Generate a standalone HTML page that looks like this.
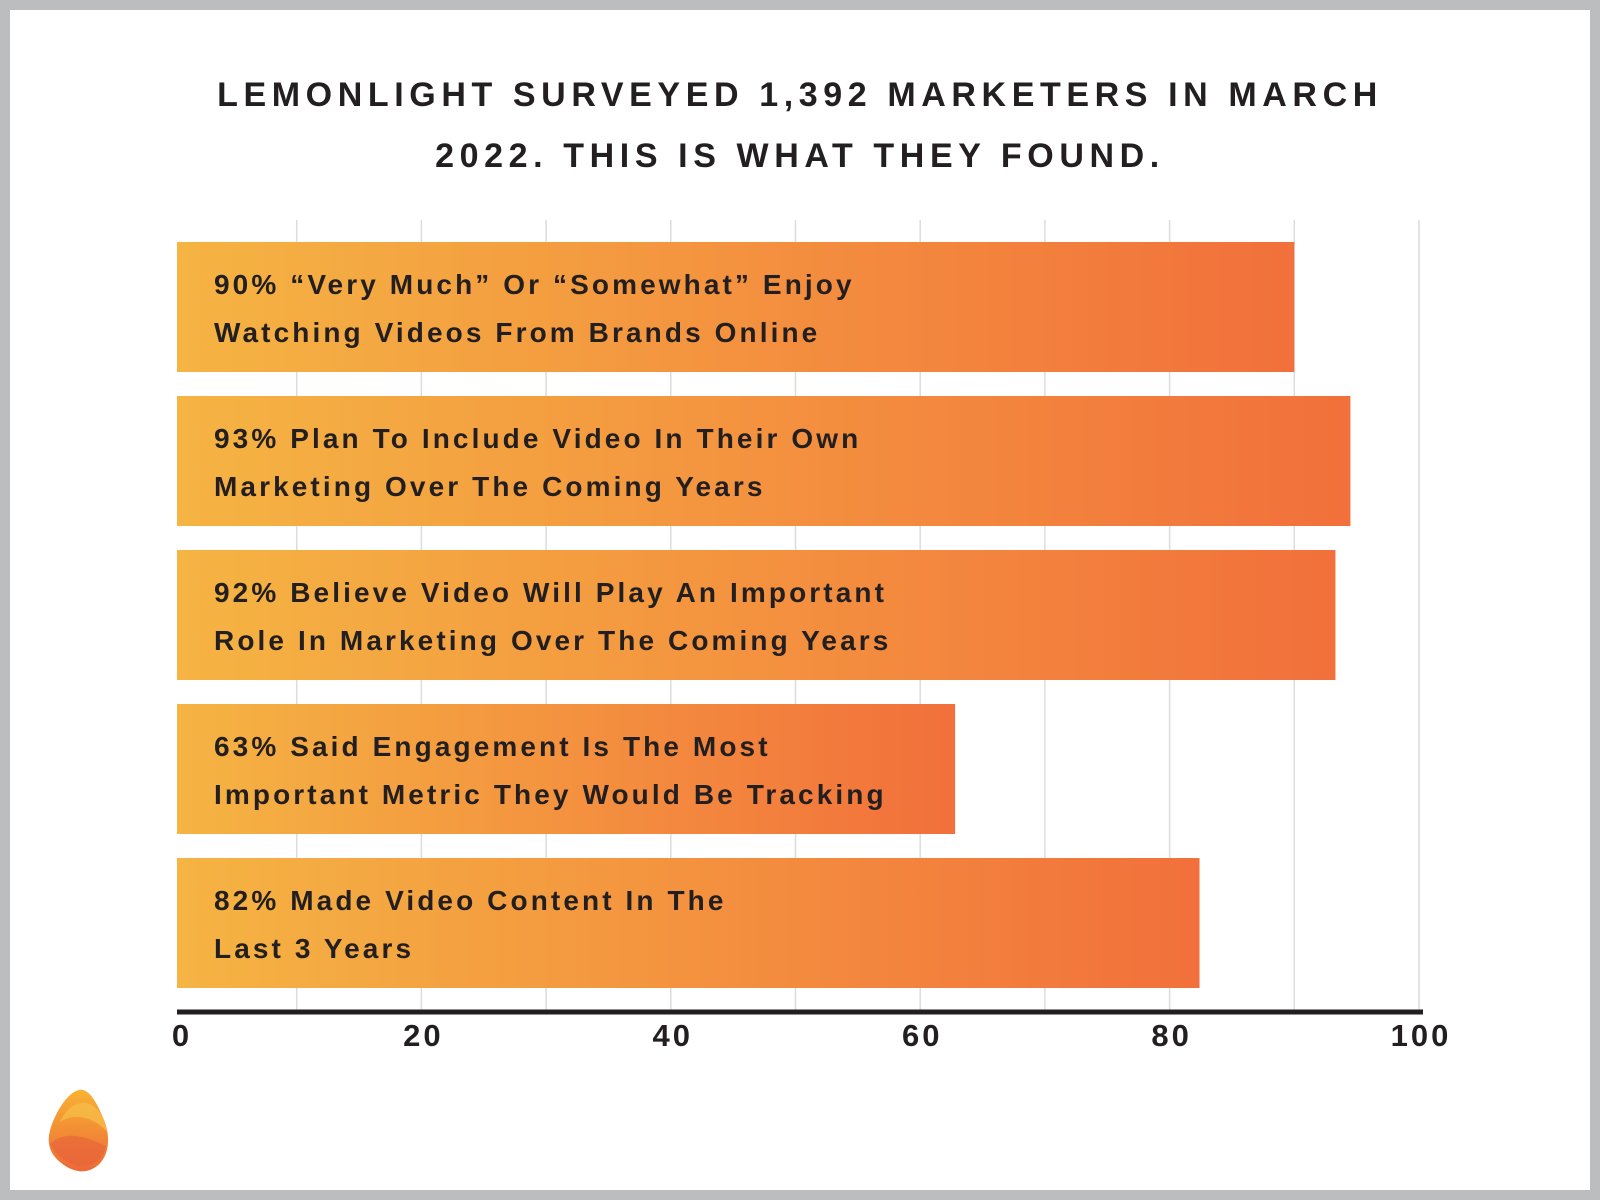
<!DOCTYPE html>
<html><head><meta charset="utf-8"><style>
body{margin:0;width:1600px;height:1200px;overflow:hidden;background:#bcbdbf;font-family:"Liberation Sans",sans-serif}
#card{position:absolute;left:10px;top:10px;width:1580px;height:1180px;background:#fff}
</style></head><body>
<div id="card"></div>
<svg id="chart" width="1600" height="1200" style="position:absolute;left:0;top:0">
<defs><linearGradient id="g" x1="0" x2="1" y1="0" y2="0"><stop offset="0" stop-color="#f5b443"/><stop offset="1" stop-color="#f2703b"/></linearGradient>
<linearGradient id="lg" x1="0" x2="0" y1="0" y2="1"><stop offset="0" stop-color="#f9b233"/><stop offset="1" stop-color="#ec6a37"/></linearGradient></defs>
<g font-weight="bold" font-size="34" fill="#231f20" text-anchor="middle" letter-spacing="5.6">
<text x="800" y="106">LEMONLIGHT SURVEYED 1,392 MARKETERS IN MARCH</text>
<text x="800" y="167">2022. THIS IS WHAT THEY FOUND.</text></g>
<g id="grid"></g><g id="bars"></g><g id="axis"></g>
<g>
<path d="M79 1090 C88 1088 96 1100 104 1120 C112 1140 108 1160 94 1168 C84 1174 72 1172 60 1162 C48 1152 46 1140 52 1124 C60 1104 70 1092 79 1090 Z" fill="url(#lg)"/>
<path d="M60 1122 C75 1112 95 1118 107 1132 C106 1124 102 1110 90 1104 C78 1100 66 1108 60 1122Z" fill="#f7c04a" opacity="0.7"/>
<path d="M50 1144 C65 1130 85 1136 106 1146 C104 1160 90 1168 78 1166 C66 1162 56 1156 50 1144Z" fill="#e8603a" opacity="0.6"/>
</g>
</svg>
<script>
const categories=["90% “Very Much” Or “Somewhat” Enjoy|Watching Videos From Brands Online","93% Plan To Include Video In Their Own|Marketing Over The Coming Years","92% Believe Video Will Play An Important|Role In Marketing Over The Coming Years","63% Said Engagement Is The Most|Important Metric They Would Be Tracking","82% Made Video Content In The|Last 3 Years"];
const values=[90,94.5,93.3,62.8,82.4];
const ticks=[0,20,40,60,80,100];
const gridTicks=[10,20,30,40,50,60,70,80,90,100];
const NS="http://www.w3.org/2000/svg";
const x0=172,ppu=12.47,barX=177,top0=242,pitch=154,bh=130;
const xs=v=>x0+v*ppu;
function mk(t,a,p){const e=document.createElementNS(NS,t);for(const k in a)e.setAttribute(k,a[k]);p.appendChild(e);return e;}
const grid=document.getElementById('grid'),bars=document.getElementById('bars'),axis=document.getElementById('axis');
gridTicks.forEach(t=>{const l=mk('line',{x1:xs(t),x2:xs(t),y1:220,y2:1012,stroke:'#dcdcdc','stroke-width':1.5},grid);

});
values.forEach((v,i)=>{const y=top0+i*pitch;
const r=mk('rect',{x:barX,y:y,width:xs(v)-barX,height:bh,fill:'url(#g)'},bars);


const lines=categories[i].split('|');
const t=mk('text',{x:214,y:y+52,'font-size':28,'font-weight':'bold',fill:'#231f20','letter-spacing':3.1},bars);


lines.forEach((s,j)=>{const ts=mk('tspan',{x:214,dy:j?48:0},t);ts.textContent=s;});});
const al=mk('line',{x1:177,x2:1423,y1:1012,y2:1012,stroke:'#231f20','stroke-width':5},axis);


ticks.forEach(t=>{const e=mk('text',{x:t===0?182:xs(t)+2,y:1046,'font-size':31,'font-weight':'bold','text-anchor':'middle',fill:'#231f20','letter-spacing':3},axis);


e.textContent=t;});
</script>
</body></html>
